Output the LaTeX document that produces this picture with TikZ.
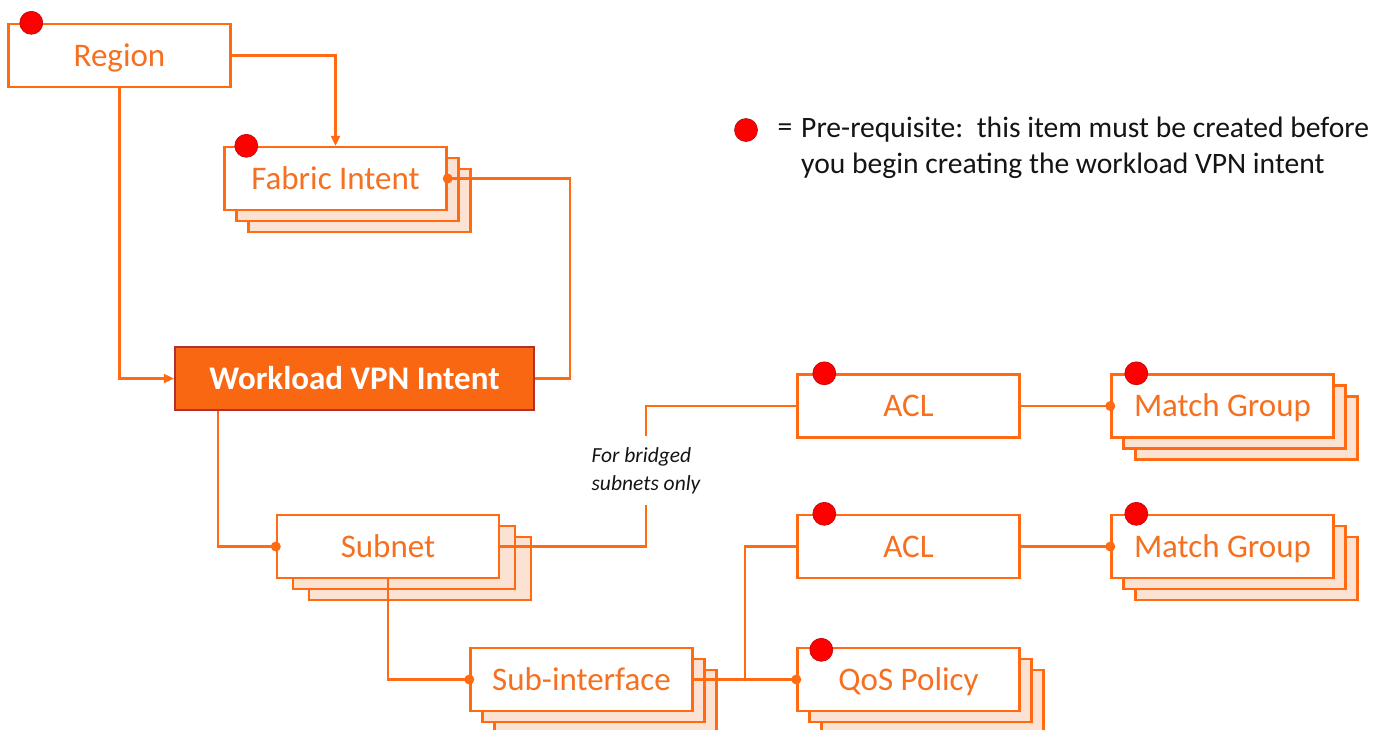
\documentclass[tikz,border=0pt]{standalone}
\usepackage{fontspec}
\setmainfont{Carlito}
\usetikzlibrary{shadows,arrows.meta,calc}
\definecolor{orL}{RGB}{255,106,19}
\definecolor{orT}{RGB}{245,112,32}
\definecolor{peach}{RGB}{251,226,211}
\definecolor{wlfill}{RGB}{249,103,19}
\definecolor{wlborder}{RGB}{178,48,48}
\definecolor{dotred}{RGB}{255,0,0}
\definecolor{dotedge}{RGB}{192,0,0}
\definecolor{legtext}{RGB}{20,20,20}
\tikzset{
  box/.style={draw=orL, line width=2.4pt, fill=white, text=orT,
    minimum width=222pt, minimum height=63pt, inner sep=0pt,
    text height=21.5pt, text depth=0pt,
    font=\fontsize{33}{39}\selectfont},
  stack/.style={
    copy shadow={shadow xshift=24pt, shadow yshift=-22pt, fill=peach, draw=orL, line width=2.4pt},
    copy shadow={shadow xshift=12pt, shadow yshift=-11pt, fill=peach, draw=orL, line width=2.4pt}},
  widestack/.style={
    copy shadow={shadow xshift=32pt, shadow yshift=-22pt, fill=peach, draw=orL, line width=2.4pt},
    copy shadow={shadow xshift=16pt, shadow yshift=-11pt, fill=peach, draw=orL, line width=2.4pt}},
  wlbox/.style={draw=wlborder, line width=2.4pt, fill=wlfill, text=white,
    minimum width=359pt, minimum height=63pt, inner sep=0pt,
    text height=21.5pt, text depth=0pt,
    font=\fontsize{33}{39}\selectfont\bfseries},
  pre/.style={circle, fill=dotred, draw=dotedge, line width=0.6pt,
    minimum size=23pt, inner sep=0pt},
  conn/.style={draw=orL, line width=2.2pt},
  arr/.style={conn, -{Triangle[length=10pt,width=9pt]}},
  enddot/.style={fill=orL},
  note/.style={text=legtext, align=left, inner sep=0pt, minimum height=69pt,
    font=\fontsize{21.5}{28}\selectfont\itshape},
  legend/.style={text=legtext, inner sep=0pt, font=\fontsize{29.6}{36}\selectfont}
}
\begin{document}
\begin{tikzpicture}[x=1pt,y=-1pt]
\useasboundingbox (0,0) rectangle (1374,729);

% boxes
\node[box] (region) at (119.5,55.5) {Region};
\node[box,stack] (fabric) at (335.5,178.5) {Fabric Intent};
\node[wlbox] (wl) at (354.5,378.5) {Workload VPN Intent};
\node[box,widestack] (subnet) at (388,546.5) {Subnet};
\node[box] (acl1) at (908.5,406) {ACL};
\node[box,stack] (mg1) at (1222.5,406) {Match Group};
\node[box] (acl2) at (908.5,546.5) {ACL};
\node[box,stack] (mg2) at (1222.5,546.5) {Match Group};
\node[box,stack] (subif) at (581.5,679.5) {Sub-interface};
\node[box,stack] (qos) at (908.5,679.5) {QoS Policy};

\node[note] (bridged) at (646,470.5) {For bridged\\subnets only};

% connectors
\draw[arr] (region.east) -| (fabric.north);
\draw[arr] (region.south) |- (wl.west);
\draw[conn] (fabric.east) -- ++(122,0) |- (wl.east);
\fill[enddot] (fabric.east) circle (5pt);
\draw[conn] ([xshift=44pt]wl.south west) |- (subnet.west);
\fill[enddot] (subnet.west) circle (5pt);
\draw[conn] (subnet.east) -| (bridged.south);
\draw[conn] (bridged.north) |- (acl1.west);
\draw[conn] (acl1.east) -- (mg1.west);
\fill[enddot] (mg1.west) circle (5pt);
\draw[conn] (acl2.east) -- (mg2.west);
\fill[enddot] (mg2.west) circle (5pt);
\draw[conn] (subnet.south) |- (subif.west);
\fill[enddot] (subif.west) circle (5pt);
\coordinate (junc) at ($(subif.east)!0.5!(qos.west)$);
\draw[conn] (subif.east) -- (qos.west);
\fill[enddot] (qos.west) circle (5pt);
\draw[conn] (junc) |- (acl2.west);

% prerequisite markers
\node[pre] (p1) at ([xshift=24pt]region.north west) {};
\node[pre] (p2) at ([xshift=23pt]fabric.north west) {};
\node[pre] (p3) at ([xshift=28pt]acl1.north west) {};
\node[pre] (p4) at ([xshift=26pt]mg1.north west) {};
\node[pre] (p5) at ([xshift=28pt]acl2.north west) {};
\node[pre] (p6) at ([xshift=26pt]mg2.north west) {};
\node[pre] (p7) at ([xshift=25pt,yshift=-3pt]qos.north west) {};

% legend
\node[pre] (legdot) at (746,130) {};
\node[legend] (legeq) at (785,130) {=};
\node[legend, anchor=west, align=left] (legtxt) at (801,148)
  {Pre-requisite:\ \ this item must be created before\\you begin creating the workload VPN intent};
\end{tikzpicture}
\end{document}
